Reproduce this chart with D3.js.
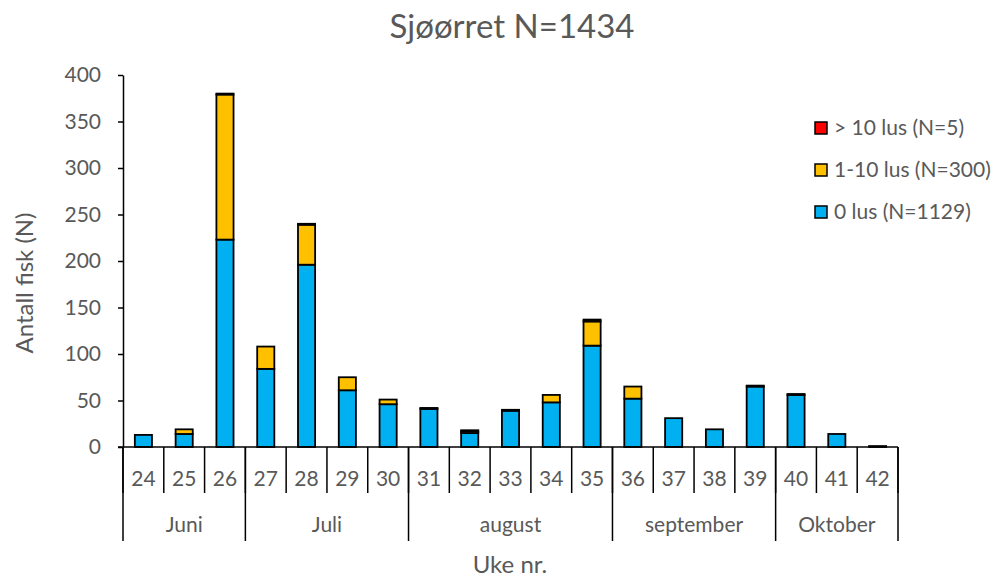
<!DOCTYPE html>
<html><head><meta charset="utf-8">
<script src="https://cdn.jsdelivr.net/npm/d3@7"></script>
<style>body{margin:0;background:#fff;} svg{display:block;}</style>
</head><body>
<svg id="chart" width="998" height="579"></svg>
<script>
const weeks = ["24","25","26","27","28","29","30","31","32","33","34","35","36","37","38","39","40","41","42"];
const months = [
  {name:"Juni", from:"24", to:"26"},
  {name:"Juli", from:"27", to:"30"},
  {name:"august", from:"31", to:"35"},
  {name:"september", from:"36", to:"39"},
  {name:"Oktober", from:"40", to:"42"}
];
const lus0   = [13,14,223,84,196,61,46,41,15,39,48,109,52,31,19,65,56,14,1];
const lus110 = [0,5,156,24,43,14,5,1,2,1,8,26,13,0,0,1,1,0,0];
const lus10  = [0,0,1,0,1,0,0,0,1,0,0,2,0,0,0,0,0,0,0];
const seriesNames = ["0 lus (N=1129)","1-10 lus (N=300)","> 10 lus (N=5)"];
const seriesColors = ["#00B0F0","#FFC000","#FF0000"];
const yTicks = [0,50,100,150,200,250,300,350,400];

const svg = d3.select("#chart");
const font = "Lato, 'Open Sans', sans-serif";
const textColor = "#595959";
const pLeft = 123, pRight = 898, pTop = 75, pBottom = 447;

const x = d3.scaleBand().domain(weeks).range([pLeft, pRight]).paddingInner(0.58).paddingOuter(0.29);
const xc = d3.scaleBand().domain(weeks).range([pLeft, pRight]);
const y = d3.scaleLinear().domain([0,400]).range([pBottom, pTop]);

// title
svg.append("text").attr("x", 512).attr("y", 38).attr("text-anchor","middle")
  .attr("font-family", font).attr("font-size", 33).attr("fill", textColor).text("Sjøørret N=1434");

// stacked data
const rows = weeks.map((w,i)=>({week:w, a:lus0[i], b:lus110[i], c:lus10[i]}));
const stack = d3.stack().keys(["a","b","c"])(rows);
stack.forEach((layer, li) => {
  svg.append("g").selectAll("rect").data(layer.filter(d=>d[1]-d[0]>0)).join("rect")
    .attr("x", d=>x(d.data.week))
    .attr("width", x.bandwidth())
    .attr("y", d=>y(d[1]))
    .attr("height", d=>y(d[0])-y(d[1]))
    .attr("fill", seriesColors[li])
    .attr("stroke", "#000").attr("stroke-width", 1.8);
});

// y axis
const yAxis = svg.append("g").attr("transform", `translate(${pLeft},0)`)
  .call(d3.axisLeft(y).tickValues(yTicks).tickSize(5).tickSizeOuter(0).tickPadding(17));
yAxis.select(".domain").attr("stroke","#000").attr("stroke-width",1.5);
yAxis.selectAll(".tick line").attr("stroke","#000").attr("stroke-width",1.5);
yAxis.selectAll("text").attr("font-family", font).attr("font-size", 21).attr("fill", textColor);

// x axis baseline
svg.append("line").attr("x1", pLeft-5).attr("x2", pRight).attr("y1", pBottom).attr("y2", pBottom)
  .attr("stroke","#000").attr("stroke-width",1.5);

// week separators
const weekBounds = weeks.map(w=>xc(w)).concat([pRight]);
svg.append("g").selectAll("line").data(weekBounds).join("line")
  .attr("x1", d=>d).attr("x2", d=>d).attr("y1", pBottom).attr("y2", 493)
  .attr("stroke","#000").attr("stroke-width",1.5);
svg.append("g").selectAll("text").data(weeks).join("text")
  .attr("x", w=>xc(w)+xc.bandwidth()/2).attr("y", 486).attr("text-anchor","middle")
  .attr("font-family", font).attr("font-size", 21).attr("fill", textColor).text(w=>w);

// month separators
const monthBounds = months.map(m=>xc(m.from)).concat([pRight]);
svg.append("g").selectAll("line").data(monthBounds).join("line")
  .attr("x1", d=>d).attr("x2", d=>d).attr("y1", pBottom).attr("y2", 541)
  .attr("stroke","#000").attr("stroke-width",1.5);
svg.append("g").selectAll("text").data(months).join("text")
  .attr("x", m=>(xc(m.from)+xc(m.to)+xc.bandwidth())/2).attr("y", 532).attr("text-anchor","middle")
  .attr("font-family", font).attr("font-size", 21).attr("fill", textColor).text(m=>m.name);

// axis titles
svg.append("text").attr("x", 510).attr("y", 573).attr("text-anchor","middle")
  .attr("font-family", font).attr("font-size", 24).attr("fill", textColor).text("Uke nr.");
svg.append("text").attr("transform", `translate(33,${(pTop+pBottom)/2 + 22}) rotate(-90)`).attr("text-anchor","middle")
  .attr("font-family", font).attr("font-size", 24).attr("fill", textColor).text("Antall fisk (N)");

// legend
const legendOrder = [2,1,0];
const lg = svg.append("g");
legendOrder.forEach((si, k) => {
  const ly = 128 + k*42;
  lg.append("rect").attr("x", 815).attr("y", ly-6).attr("width", 12).attr("height", 12)
    .attr("fill", seriesColors[si]).attr("stroke","#000").attr("stroke-width",1.5);
  lg.append("text").attr("x", 834).attr("y", ly+7)
    .attr("font-family", font).attr("font-size", 21).attr("fill", textColor).text(seriesNames[si]);
});
</script>
</body></html>
